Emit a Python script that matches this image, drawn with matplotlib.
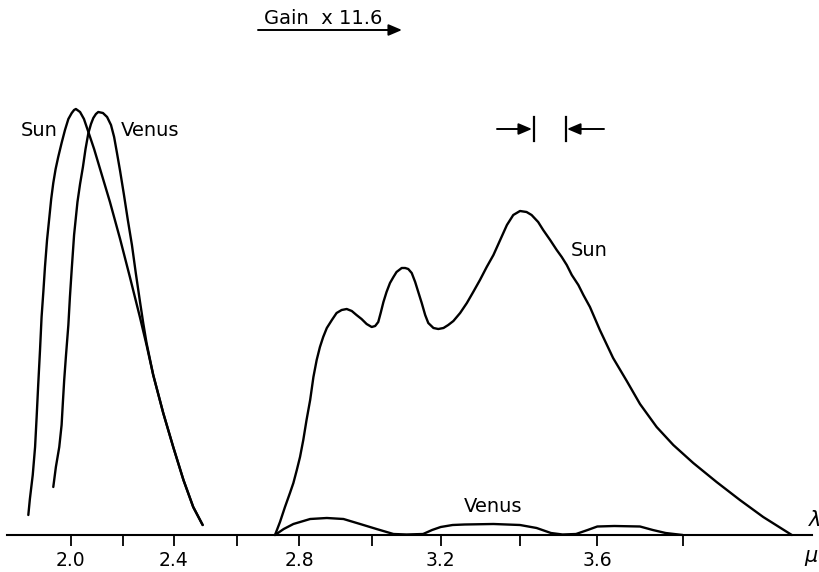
import numpy as np
import matplotlib
matplotlib.use("Agg")
import matplotlib.pyplot as plt

# wavelength (micron) vs recorder deflection
sun_vis_wl = [1.837, 1.843, 1.854, 1.863, 1.869, 1.875, 1.882, 1.888, 1.895, 1.901,
              1.909, 1.918, 1.925, 1.933, 1.942, 1.952, 1.965, 1.978, 1.991, 2.004,
              2.013, 2.020, 2.036, 2.051, 2.068, 2.090, 2.113, 2.151, 2.190, 2.228,
              2.267, 2.293, 2.319, 2.358, 2.397, 2.430, 2.461, 2.491]
sun_vis = [20, 36, 60, 88, 118, 150, 185, 218, 244, 268,
           295, 318, 336, 352, 366, 378, 392, 405, 416, 422,
           425, 426, 423, 416, 403, 386, 366, 333, 296, 258,
           218, 190, 160, 122, 88, 55, 28, 10]

venus_vis_wl = [1.933, 1.943, 1.956, 1.965, 1.970, 1.975, 1.982, 1.991, 1.997, 2.004,
                2.013, 2.026, 2.036, 2.047, 2.057, 2.068, 2.078, 2.087, 2.097, 2.106,
                2.124, 2.140, 2.155, 2.167, 2.178, 2.190, 2.205, 2.220, 2.236, 2.251,
                2.267, 2.280, 2.293, 2.319, 2.358, 2.397, 2.430, 2.461, 2.491]
venus_vis = [48, 68, 88, 110, 133, 155, 180, 210, 238, 266,
             300, 333, 351, 368, 386, 402, 411, 417, 421, 423,
             422, 418, 410, 398, 382, 364, 340, 315, 290, 262,
             234, 212, 192, 160, 122, 88, 55, 28, 10]

# infrared part, recorded with gain x 11.6
sun_ir_wl = [2.722, 2.738, 2.754, 2.770, 2.781, 2.792, 2.802, 2.811, 2.820, 2.830,
             2.839, 2.848, 2.857, 2.866, 2.876, 2.890, 2.903, 2.917, 2.931, 2.945,
             2.958, 2.972, 2.986, 3.000, 3.010, 3.019, 3.026, 3.034, 3.043, 3.053,
             3.063, 3.072, 3.087, 3.097, 3.106, 3.116, 3.126, 3.135, 3.145, 3.155,
             3.164, 3.179, 3.193, 3.207, 3.219, 3.232, 3.249, 3.266, 3.282, 3.299,
             3.316, 3.333, 3.350, 3.367, 3.383, 3.400, 3.417, 3.430, 3.447, 3.460,
             3.478, 3.495, 3.508, 3.521, 3.534, 3.551, 3.564, 3.581, 3.606, 3.637,
             3.669, 3.700, 3.739, 3.778, 3.824, 3.877, 3.930, 3.983, 4.048]
sun_ir = [0, 13, 28, 42, 52, 65, 78, 95, 115, 135,
          158, 175, 188, 198, 207, 215, 222, 225, 226, 224,
          220, 216, 211, 208, 209, 213, 222, 233, 243, 252,
          258, 263, 267, 267, 266, 262, 253, 243, 232, 220,
          212, 207, 206, 207, 210, 214, 222, 232, 243, 255,
          268, 280, 295, 310, 320, 324, 323, 320, 313, 305,
          295, 285, 278, 270, 260, 250, 240, 228, 205, 177,
          154, 131, 108, 90, 72, 53, 35, 18, 0]

venus_ir_wl = [2.722, 2.750, 2.781, 2.830, 2.876, 2.922, 2.968, 3.014, 3.063, 3.101,
               3.149, 3.175, 3.200, 3.230, 3.260, 3.333, 3.400, 3.443, 3.480, 3.510,
               3.545, 3.575, 3.600, 3.640, 3.700, 3.730, 3.760, 3.800]
venus_ir = [0, 6, 11, 16, 17, 16, 11, 6, 1, 0.5,
            1, 5, 8, 10, 10.5, 11, 10, 7, 2, 0.5,
            1, 5, 8.5, 9, 8.5, 5, 2, 0]

tick_wl = [2.0, 2.2, 2.4, 2.6, 2.8, 3.0, 3.2, 3.4, 3.6, 3.8]
tick_labels = ["2.0", "", "2.4", "", "2.8", "", "3.2", "", "3.6", ""]

# prism dispersion: the wavelength scale is not linear on the chart
cal_wl = np.array([1.5, 2.0, 2.2, 2.4, 2.6, 2.8, 3.0, 3.2, 3.4, 3.6, 3.8, 4.5])
cal_px = np.array([-59.3, 70.7, 122.7, 174.0, 237.0, 299.3, 371.7, 440.7, 520.0, 597.3, 682.7, 990.7])


def fwd(w):
    return np.interp(w, cal_wl, cal_px)


def inv(p):
    return np.interp(p, cal_px, cal_wl)


W, H = 820, 572
fig = plt.figure(figsize=(W / 100, H / 100), dpi=100)
ax = fig.add_axes([0, 0, 1, 1])
ax.set_xscale("function", functions=(fwd, inv))
ax.set_xlim(inv(0), inv(W))
ax.set_ylim(-37, 535)

lw = 1.7
for x, y in [(sun_vis_wl, sun_vis), (venus_vis_wl, venus_vis), (sun_ir_wl, sun_ir), (venus_ir_wl, venus_ir)]:
    ax.plot(x, y, color="black", lw=lw, solid_joinstyle="round", solid_capstyle="round")

for s in ["top", "left", "right"]:
    ax.spines[s].set_visible(False)
ax.spines["bottom"].set_position(("data", 0))
ax.spines["bottom"].set_bounds(inv(7), inv(812))
ax.spines["bottom"].set_linewidth(1.5)
ax.set_xticks(tick_wl)
ax.set_xticklabels(tick_labels)
ax.xaxis.set_minor_locator(matplotlib.ticker.NullLocator())
ax.tick_params(axis="x", direction="out", length=8, width=1.3, pad=3.5, labelsize=13.5)
ax.set_yticks([])


def fp(x, y):
    return x / W, 1 - y / H


txt = dict(transform=ax.transAxes, fontsize=14, ha="center", va="center")
ax.text(*fp(39.5, 130), "Sun", **txt)
ax.text(*fp(150, 130), "Venus", **txt)
ax.text(*fp(589, 251), "Sun", **txt)
ax.text(*fp(493, 507), "Venus", **txt)
ax.text(*fp(323, 19), "Gain  x 11.6", **txt)
ax.text(*fp(815, 520), r"$\lambda$", transform=ax.transAxes, fontsize=15, ha="center", va="center")
ax.text(*fp(811, 558), r"$\mu$", transform=ax.transAxes, fontsize=15, ha="center", va="center")

arr = dict(arrowstyle="-|>,head_length=0.4,head_width=0.17", color="black", lw=1.4,
           shrinkA=0, shrinkB=0, mutation_scale=20)
ax.annotate("", xy=fp(402, 30), xytext=fp(258, 30), xycoords="axes fraction", arrowprops=arr)

# resolution marker
ax.annotate("", xy=fp(532, 129), xytext=fp(497, 129), xycoords="axes fraction", arrowprops=arr)
ax.annotate("", xy=fp(567, 129), xytext=fp(604, 129), xycoords="axes fraction", arrowprops=arr)
for xb in [533.5, 566]:
    ax.plot([xb / W, xb / W], [1 - 117 / H, 1 - 141 / H], color="black", lw=1.6, transform=ax.transAxes)

fig.savefig("out.png", dpi=100)
